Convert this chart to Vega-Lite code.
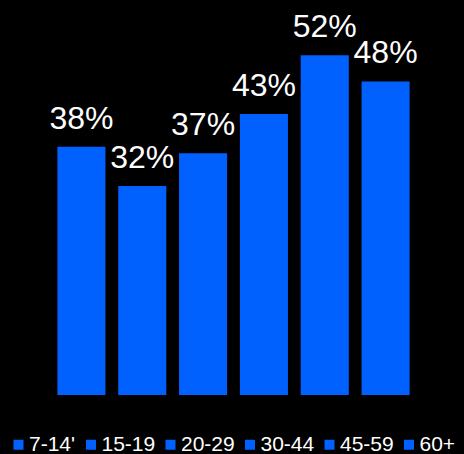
{
  "$schema": "https://vega.github.io/schema/vega-lite/v6.json",
  "width": 365,
  "height": 392,
  "autosize": {"type": "none"},
  "padding": {"left": 51, "top": 3, "right": 48, "bottom": 59},
  "background": "#000000",
  "config": {"view": {"stroke": null}, "font": "Liberation Sans"},
  "data": {
    "values": [
      {"group": "7-14'", "value": 0.38},
      {"group": "15-19", "value": 0.32},
      {"group": "20-29", "value": 0.37},
      {"group": "30-44", "value": 0.43},
      {"group": "45-59", "value": 0.52},
      {"group": "60+", "value": 0.48}
    ]
  },
  "encoding": {
    "x": {
      "field": "group",
      "type": "nominal",
      "sort": null,
      "axis": null,
      "scale": {"paddingInner": 0.21, "paddingOuter": 0.105}
    },
    "y": {
      "field": "value",
      "type": "quantitative",
      "axis": null,
      "scale": {"domain": [0, 0.6], "nice": false}
    }
  },
  "layer": [
    {
      "mark": {"type": "bar", "color": "#0061FF"},
      "encoding": {
        "color": {
          "field": "group",
          "type": "nominal",
          "sort": null,
          "scale": {"range": ["#0061FF"]},
          "legend": {
            "title": null,
            "orient": "none",
            "direction": "horizontal",
            "legendX": -43,
            "legendY": 431,
            "symbolType": "square",
            "symbolSize": 100,
            "symbolOpacity": 1,
            "symbolStrokeWidth": 0,
            "labelColor": "#ffffff",
            "labelFontSize": 21,
            "labelFont": "Liberation Sans",
            "labelOffset": 0,
            "columnPadding": 4.5,
            "padding": 0
          }
        }
      }
    },
    {
      "mark": {
        "type": "text",
        "color": "#ffffff",
        "fontSize": 32,
        "baseline": "alphabetic",
        "dy": -18,
        "font": "Liberation Sans"
      },
      "encoding": {
        "text": {"field": "value", "type": "quantitative", "format": ".0%"}
      }
    }
  ]
}
